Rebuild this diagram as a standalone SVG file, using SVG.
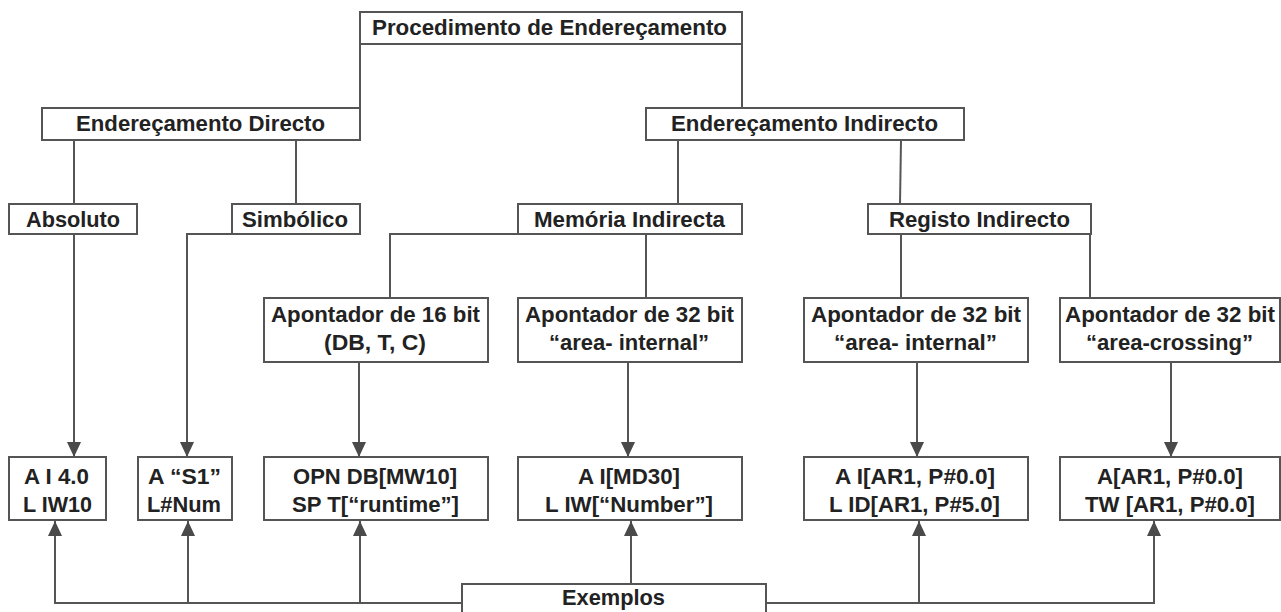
<svg xmlns="http://www.w3.org/2000/svg" width="1281" height="612" viewBox="0 0 1281 612">
<style>
.b{fill:#fff;stroke:#555;stroke-width:2}
.t{font-family:"Liberation Sans",Arial,sans-serif;font-weight:bold;font-size:22px;fill:#222;text-anchor:middle}
.c{fill:none;stroke:#555;stroke-width:2}
</style>
<defs>
<marker id="ah" markerUnits="userSpaceOnUse" markerWidth="16" markerHeight="16" viewBox="0 0 16 16" refX="15" refY="8" orient="auto">
<path d="M0 1 L15 8 L0 15 Z" fill="#4a4a4a"/>
</marker>
</defs>
<rect width="1281" height="612" fill="#fff"/>
<g id="connectors">
<path class="c" d="M360 44 V108"/>
<path class="c" d="M742 44 V108"/>
<path class="c" d="M74 140 V204"/>
<path class="c" d="M296 140 V204"/>
<path class="c" d="M678 140 V204"/>
<path class="c" d="M901 140 L900 204"/>
<path class="c" d="M74 234 V457" marker-end="url(#ah)"/>
<path class="c" d="M232 234 H187 V457" marker-end="url(#ah)"/>
<path class="c" d="M518 234 H390 V298"/>
<path class="c" d="M646 234 V298"/>
<path class="c" d="M901 234 V298"/>
<path class="c" d="M1090 234 V298"/>
<path class="c" d="M359 362 V457" marker-end="url(#ah)"/>
<path class="c" d="M628 362 V457" marker-end="url(#ah)"/>
<path class="c" d="M917 362 V457" marker-end="url(#ah)"/>
<path class="c" d="M1171 362 V457" marker-end="url(#ah)"/>
<path class="c" d="M462 603 H55 V521" marker-end="url(#ah)"/>
<path class="c" d="M188 603 V521" marker-end="url(#ah)"/>
<path class="c" d="M360 603 V521" marker-end="url(#ah)"/>
<path class="c" d="M631 584 V521" marker-end="url(#ah)"/>
<path class="c" d="M766 603 H1154 V521" marker-end="url(#ah)"/>
<path class="c" d="M919 603 V521" marker-end="url(#ah)"/>
</g>
<g id="n-proc"><rect class="b" x="360" y="12" width="382" height="32"/><text class="t" x="549.5" y="35" textLength="355" lengthAdjust="spacingAndGlyphs">Procedimento de Endereçamento</text></g>
<g id="n-directo"><rect class="b" x="42" y="108" width="318" height="32"/><text class="t" x="200.5" y="131" textLength="249" lengthAdjust="spacingAndGlyphs">Endereçamento Directo</text></g>
<g id="n-indirecto"><rect class="b" x="646" y="108" width="318" height="32"/><text class="t" x="804.5" y="131" textLength="267" lengthAdjust="spacingAndGlyphs">Endereçamento Indirecto</text></g>
<g id="n-absoluto"><rect class="b" x="9" y="204" width="128" height="30"/><text class="t" x="73" y="227" textLength="94" lengthAdjust="spacingAndGlyphs">Absoluto</text></g>
<g id="n-simbolico"><rect class="b" x="232" y="204" width="128" height="30"/><text class="t" x="295" y="227" textLength="106" lengthAdjust="spacingAndGlyphs">Simbólico</text></g>
<g id="n-memoria"><rect class="b" x="518" y="204" width="224" height="30"/><text class="t" x="629.5" y="227" textLength="191" lengthAdjust="spacingAndGlyphs">Memória Indirecta</text></g>
<g id="n-registo"><rect class="b" x="868" y="204" width="223" height="30"/><text class="t" x="979.5" y="227" textLength="181" lengthAdjust="spacingAndGlyphs">Registo Indirecto</text></g>
<g id="n-ap16"><rect class="b" x="264" y="298" width="224" height="64"/><text class="t" x="375.5" y="322" textLength="209" lengthAdjust="spacingAndGlyphs">Apontador de 16 bit</text><text class="t" x="375" y="350" textLength="102" lengthAdjust="spacingAndGlyphs">(DB, T, C)</text></g>
<g id="n-ap32a"><rect class="b" x="518" y="298" width="224" height="64"/><text class="t" x="629.5" y="322" textLength="209" lengthAdjust="spacingAndGlyphs">Apontador de 32 bit</text><text class="t" x="629" y="350" textLength="160" lengthAdjust="spacingAndGlyphs">“area- internal”</text></g>
<g id="n-ap32b"><rect class="b" x="804" y="298" width="224" height="64"/><text class="t" x="916" y="322" textLength="210" lengthAdjust="spacingAndGlyphs">Apontador de 32 bit</text><text class="t" x="915.5" y="350" textLength="163" lengthAdjust="spacingAndGlyphs">“area- internal”</text></g>
<g id="n-ap32c"><rect class="b" x="1060" y="298" width="220" height="64"/><text class="t" x="1170" y="322" textLength="210" lengthAdjust="spacingAndGlyphs">Apontador de 32 bit</text><text class="t" x="1169.5" y="350" textLength="167" lengthAdjust="spacingAndGlyphs">“area-crossing”</text></g>
<g id="n-ex1"><rect class="b" x="9" y="457" width="97" height="63"/><text class="t" x="56.5" y="484" textLength="65" lengthAdjust="spacingAndGlyphs">A I 4.0</text><text class="t" x="57.5" y="512" textLength="69" lengthAdjust="spacingAndGlyphs">L IW10</text></g>
<g id="n-ex2"><rect class="b" x="138" y="457" width="94" height="63"/><text class="t" x="184.5" y="484" textLength="73" lengthAdjust="spacingAndGlyphs">A “S1”</text><text class="t" x="184" y="512" textLength="74" lengthAdjust="spacingAndGlyphs">L#Num</text></g>
<g id="n-ex3"><rect class="b" x="264" y="457" width="224" height="63"/><text class="t" x="375" y="484" textLength="164" lengthAdjust="spacingAndGlyphs">OPN DB[MW10]</text><text class="t" x="375.5" y="512" textLength="167" lengthAdjust="spacingAndGlyphs">SP T[“runtime”]</text></g>
<g id="n-ex4"><rect class="b" x="518" y="457" width="224" height="63"/><text class="t" x="629" y="484" textLength="102" lengthAdjust="spacingAndGlyphs">A I[MD30]</text><text class="t" x="629" y="512" textLength="168" lengthAdjust="spacingAndGlyphs">L IW[“Number”]</text></g>
<g id="n-ex5"><rect class="b" x="804" y="457" width="224" height="63"/><text class="t" x="915" y="484" textLength="160" lengthAdjust="spacingAndGlyphs">A I[AR1, P#0.0]</text><text class="t" x="914.5" y="512" textLength="171" lengthAdjust="spacingAndGlyphs">L ID[AR1, P#5.0]</text></g>
<g id="n-ex6"><rect class="b" x="1060" y="457" width="220" height="63"/><text class="t" x="1170" y="484" textLength="146" lengthAdjust="spacingAndGlyphs">A[AR1, P#0.0]</text><text class="t" x="1170" y="512" textLength="170" lengthAdjust="spacingAndGlyphs">TW [AR1, P#0.0]</text></g>
<g id="n-exemplos"><rect class="b" x="462" y="584" width="304" height="40"/><text class="t" x="613.5" y="605" textLength="103" lengthAdjust="spacingAndGlyphs">Exemplos</text></g>
</svg>
